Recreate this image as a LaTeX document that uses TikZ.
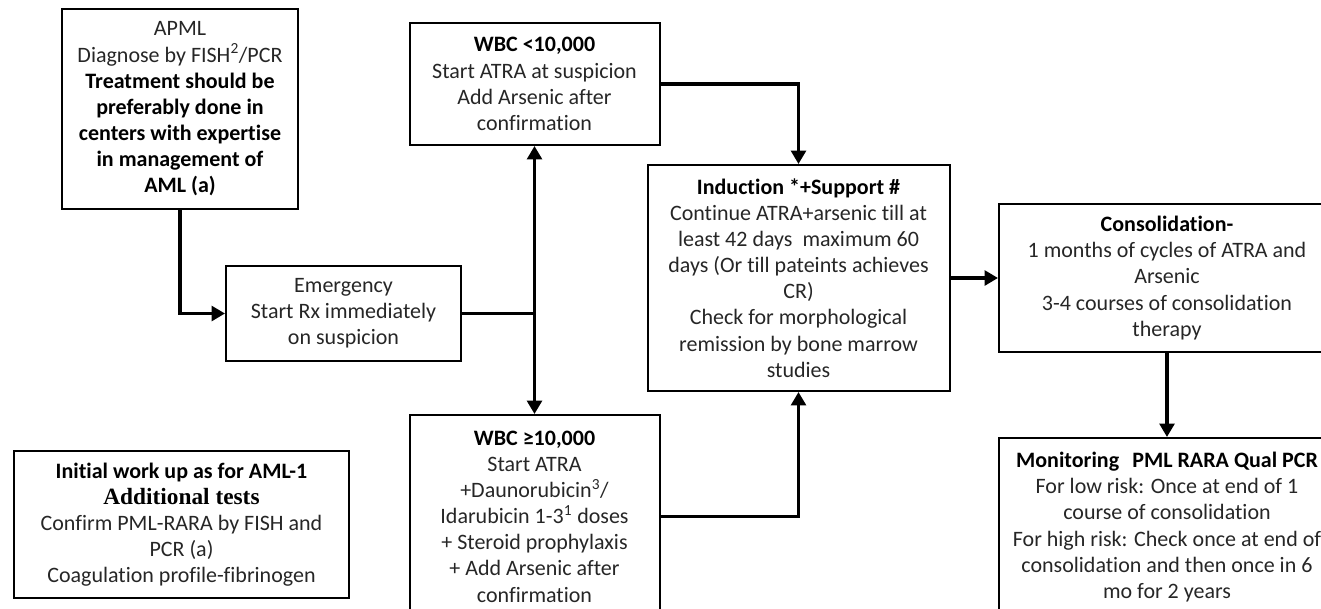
\documentclass[tikz,border=0pt]{standalone}
\usepackage{fontspec}
\setmainfont{Carlito}[Ligatures=NoCommon]
\newfontfamily\timesbold{Liberation Serif}
\usetikzlibrary{arrows.meta}

\newcommand\hd[1]{\textcolor{black}{\bfseries #1}}
\tikzset{
  box/.style={draw, line width=1.5pt, inner sep=0pt, align=center,
    text=black!85, font=\fontsize{16.5}{19.6}\selectfont},
  link/.style={line width=2.5pt, -{Triangle[length=10pt,width=11pt]}},
}

\begin{document}
\begin{tikzpicture}[x=0.75pt, y=-0.75pt]
	\useasboundingbox (0,0) rectangle (1321,608);
	\clip (0,0) rectangle (1321,608);

	\node[box, minimum width=177pt, minimum height=150pt] (apml) at (180,109)
		{APML\\Diagnose by FISH\textsuperscript{2}/PCR\\\hd{Treatment should be}\\\hd{preferably done in}\\\hd{centers with expertise}\\\hd{in management of}\\\hd{AML (a)}};
	\node[box, minimum width=176.25pt, minimum height=71.25pt] (emerg) at (343.5,313.5)
		{Emergency\\Start Rx immediately\\on suspicion};
	\node[box, minimum width=187.5pt, minimum height=91.5pt] (wbclow) at (534.5,84)
		{\hd{WBC <10,000}\\Start ATRA at suspicion\\Add Arsenic after\\confirmation};
	\node[box, minimum width=187.5pt, minimum height=152.25pt] (wbchigh) at (534.5,516.5)
		{\hd{WBC ≥10,000}\\Start ATRA\\+Daunorubicin\textsuperscript{3}/\\Idarubicin 1-3\textsuperscript{1} doses\\+ Steroid prophylaxis\\+ Add Arsenic after\\confirmation};
	\node[box, minimum width=226.5pt, minimum height=169.5pt] (induct) at (798.5,278)
		{\hd{Induction *+Support \#}\\Continue ATRA+arsenic till at\\least 42 days~ maximum 60\\days (Or till pateints achieves\\CR)\\Check for morphological\\remission by bone marrow\\studies};
	\node[box, minimum width=252pt, minimum height=111pt] (consol) at (1167,278)
		{\hd{Consolidation-}\\1 months of cycles of ATRA and\\Arsenic\\3-4 courses of consolidation\\therapy};
	\node[box, minimum width=252pt, minimum height=133.5pt] (monit) at (1167,527)
		{\hd{Monitoring\hspace{0.6em}PML RARA Qual PCR}\\For low risk: Once at end of 1\\course of consolidation\\For high risk: Check once at end of\\consolidation and then once in 6\\mo for 2 years};
	\node[box, minimum width=251.25pt, minimum height=110.25pt] (initial) at (181.5,524.5)
		{\hd{Initial work up as for AML-1}\\\hd{\timesbold\fontsize{17.5}{19.6}\selectfont Additional tests}\\Confirm PML-RARA by FISH and\\PCR (a)\\Coagulation profile-fibrinogen};

	% connectors
	\coordinate (split) at (wbclow.south |- emerg.east);
	\draw[link] (apml.south) |- (emerg.west);
	\draw[link] (emerg.east) -- (split) -- (wbclow.south);
	\draw[link] (split) -- (wbchigh.north);
	\draw[link] (wbclow.east) -| (induct.north);
	\draw[link] (wbchigh.east) -| (induct.south);
	\draw[link] (induct.east) -- (consol.west);
	\draw[link] (consol.south) -- (monit.north);
\end{tikzpicture}
\end{document}
